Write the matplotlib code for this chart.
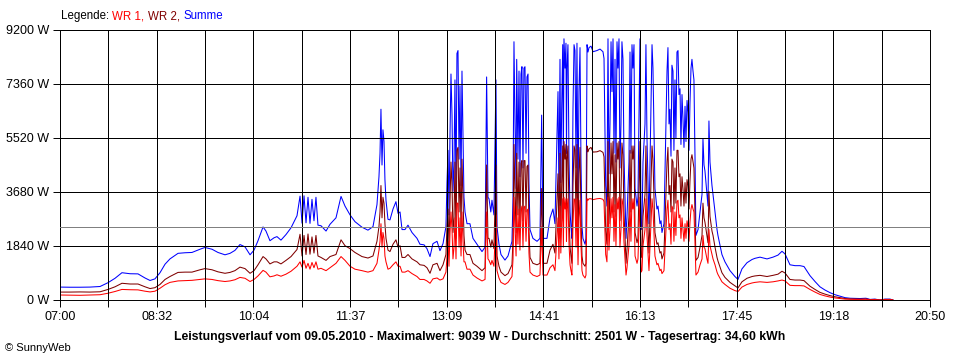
import numpy as np
import matplotlib
matplotlib.use("Agg")
import matplotlib.pyplot as plt

plt.rcParams['font.family'] = ['Liberation Sans', 'DejaVu Sans']

# all times are minutes after 07:00, powers in W
# morning, 07:00 - 10:46
t_morning = [0, 9.5, 19.1, 28.6, 38.2, 45.8, 52.5, 59.1, 66.8, 74.4,
             81.1, 85.9, 90.6, 95.4, 100.2, 104.9, 112.6, 119.3, 125.9, 133.6,
             138.3, 145, 150.7, 157.4, 162.2, 166.9, 171.7, 176.5, 181.3, 185.1,
             188.9, 193.7, 196.5, 200.3, 204.2, 207, 210.8, 215.6, 220.4, 226.1]
wr1_morning = [170, 165, 160, 170, 180, 230, 290, 360, 350, 345,
               300, 275, 300, 400, 520, 600, 650, 660, 670, 700,
               720, 700, 660, 630, 650, 690, 770, 740, 630, 700,
               820, 1010, 950, 790, 820, 860, 810, 880, 980, 1150]
wr2_morning = [270, 270, 275, 270, 280, 360, 450, 570, 545, 545,
               450, 390, 420, 530, 700, 800, 940, 950, 950, 1030,
               1070, 1030, 960, 910, 940, 1000, 1120, 1070, 910, 1000,
               1200, 1480, 1400, 1230, 1300, 1300, 1230, 1350, 1480, 1720]

# late morning, 10:49 - 13:05
t_noon = [229, 230.9, 232.8, 234.7, 236.6, 238.5, 240.4, 242.3, 244.2, 246.1,
          249, 253.8, 257.6, 263.3, 268.1, 271.9, 276.7, 281.4, 288.1, 293.8,
          298.6, 302.4, 304.3, 305.3, 306.2, 307.2, 308.1, 309.1, 310, 311,
          312.9, 314.8, 317.7, 320.5, 322.5, 324.4, 326.3, 329.1, 332, 335.8,
          340.6, 343.4, 347.3, 350.1, 353, 355.8, 359.7, 362.5, 365.4]
wr1_noon = [1300, 1120, 1350, 1080, 1250, 1050, 1280, 1100, 1300, 1050,
            1080, 1000, 1100, 1250, 1480, 1350, 1150, 1050, 1000, 950,
            1000, 1250, 1700, 2000, 2600, 1800, 2300, 2100, 1500, 1300,
            1050, 1080, 1200, 1300, 1150, 1150, 950, 950, 1000, 900,
            800, 700, 700, 650, 570, 720, 750, 680, 720]
wr2_noon = [2240, 1500, 2200, 1550, 2250, 1560, 2150, 1600, 2200, 1500,
            1450, 1350, 1480, 1550, 2050, 1850, 1750, 1620, 1480, 1430,
            1500, 2000, 2500, 3000, 3900, 2800, 3500, 3300, 2600, 2100,
            1700, 1650, 1900, 2050, 1800, 1850, 1450, 1450, 1550, 1400,
            1300, 1200, 1180, 1100, 910, 1200, 1250, 1000, 1200]

# early afternoon, 13:08 - 15:22
t_early = [368.2, 369.2, 370.2, 371.1, 372.1, 373, 374, 374.9, 375.9, 376.8,
           377.8, 378.7, 379.7, 380.7, 381.6, 382.6, 383.5, 384.5, 385.4, 386.4,
           388.3, 391.1, 394, 397.8, 402.6, 405.5, 407, 408.3, 409.3, 411,
           412.1, 414, 415.9, 416.9, 418.8, 420.7, 424.5, 427.4, 431.2, 432.2,
           433.1, 434.1, 435.1, 435.7, 436.9, 437.9, 438.8, 439.8, 440.7, 441.7,
           442.6, 443.6, 444.6, 445.5, 446.5, 447.4, 448.4, 451.2, 455.1, 457.9,
           459.5, 460.8, 464.6, 467.5, 470.3, 472.2, 475.1, 476, 477, 477.8,
           478.6, 479.6, 480.2, 480.8, 481.8, 482.7, 483.2, 483.7, 484.6, 485.6,
           486.6, 487.5, 488.4, 489.4, 490.4, 491.3, 492.3, 493.2, 494.2, 495.1,
           496.1, 497, 498, 498.9, 500.9, 501.8]
wr1_early = [950, 1500, 2000, 1150, 2300, 3000, 2400, 1400, 1800, 2800,
             1400, 3300, 3300, 1800, 2800, 1500, 3000, 2000, 1300, 1300,
             1050, 1050, 850, 750, 650, 700, 3000, 1400, 1350, 1200,
             1350, 1150, 2900, 1000, 750, 600, 530, 600, 800, 1400,
             3500, 2400, 1500, 3200, 1900, 3100, 1700, 3050, 3200, 1800,
             3150, 3200, 2000, 3050, 3100, 1600, 950, 850, 800, 850,
             2500, 850, 850, 1100, 1200, 1000, 2800, 1400, 3200, 1600,
             2600, 3450, 1800, 3500, 3100, 3450, 2000, 3100, 3450, 1900,
             1200, 1000, 850, 2600, 3450, 3400, 1800, 3450, 1200, 2800,
             3400, 1900, 1000, 850, 750, 850]
wr2_early = [1550, 2500, 3100, 1750, 3400, 4700, 3900, 2300, 2800, 4700,
             2100, 5100, 5200, 3000, 4500, 2400, 4800, 3500, 2200, 1700,
             1550, 1550, 1250, 1150, 1000, 1100, 4600, 2100, 2100, 1800,
             2050, 1750, 4600, 1500, 1150, 950, 830, 900, 1200, 2100,
             5300, 3600, 2300, 5000, 2900, 4700, 2500, 4650, 4750, 2700,
             4750, 4750, 3000, 4550, 4600, 2400, 1450, 1250, 1200, 1250,
             3800, 1250, 1250, 1700, 1900, 1600, 4300, 2100, 5000, 2400,
             3900, 5250, 2700, 5400, 4800, 5300, 3000, 4800, 5250, 2900,
             1800, 1500, 1250, 3900, 5250, 5100, 2700, 5300, 1800, 4300,
             5200, 2900, 1500, 1250, 1150, 1250]

# late afternoon, 15:23 - 17:07
t_late = [502.8, 503.7, 504.7, 506.6, 508.5, 512.3, 515.2, 518, 519, 520.6,
          521.8, 522.8, 523.7, 524.7, 525.7, 526.6, 527.6, 528.5, 529.5, 530.4,
          531.4, 532.3, 533.3, 534.2, 535.2, 536.1, 537.1, 538, 539, 540,
          540.9, 542.8, 543.8, 544.7, 545.7, 546.6, 547.6, 548.6, 550.5, 551.4,
          553.3, 554.3, 555.2, 556.2, 558.1, 559, 560, 561.9, 562.9, 564.8,
          565.7, 567.6, 569.5, 570.5, 572.4, 573.4, 574.3, 576.2, 579.1, 580,
          581, 581.9, 582.9, 583.8, 584.8, 585.7, 586.7, 587.6, 588.6, 589.6,
          590.5, 591.5, 592.4, 593.4, 594.3, 595.3, 596.3, 597.2, 598.2, 599.1,
          600.1, 601, 602, 602.9, 603.9, 604.8, 605.8, 606.7]
wr1_late = [3450, 3400, 3450, 3450, 3420, 3450, 3460, 3430, 3350, 1550,
            1300, 3500, 1700, 2400, 3450, 2800, 3500, 2000, 3250, 1850,
            3450, 3100, 3500, 1800, 2400, 3450, 3250, 2000, 1400, 850,
            1100, 1850, 3350, 2000, 3450, 3100, 3450, 1500, 1250, 1400,
            3500, 950, 1000, 1850, 2400, 3450, 2200, 1000, 1850, 3450,
            3100, 1500, 1200, 1250, 1000, 1050, 900, 1000, 3100, 3400,
            2400, 2600, 1900, 3200, 3100, 2000, 3000, 2200, 3350, 3400,
            2800, 2900, 2100, 2800, 2400, 2000, 2600, 2100, 2700, 2500,
            2000, 2650, 3100, 3250, 3100, 3000, 1950, 850]
wr2_late = [5250, 5050, 5150, 5200, 5040, 5050, 5090, 5030, 4880, 2350,
            1900, 5400, 2600, 3600, 5350, 4300, 5400, 3000, 4950, 2850,
            5350, 4800, 5400, 2700, 3600, 5350, 4950, 3000, 2200, 1250,
            1700, 2850, 5100, 3000, 5250, 4800, 5250, 2300, 1950, 2100,
            5400, 1450, 1500, 2850, 3600, 5250, 3300, 1600, 2850, 5250,
            4800, 2300, 1900, 1950, 1600, 1650, 1400, 1600, 4700, 5200,
            3600, 3900, 3000, 4800, 4700, 3100, 4500, 3300, 5100, 5100,
            4200, 4300, 3200, 4200, 3800, 3200, 4000, 3300, 4100, 3900,
            3100, 4050, 4800, 4950, 4700, 4500, 2950, 1350]

# evening, 17:09 - 20:15
t_evening = [608.7, 610.6, 612.5, 613.4, 614.4, 615.3, 617.2, 618.2, 619.1, 620.1,
             622, 623, 624.9, 626.8, 627.7, 631.5, 634.4, 639.2, 643.9, 646.8,
             650.6, 655.4, 660.2, 663, 667.8, 674.5, 680.2, 685, 688.8, 691.7,
             696.4, 701.2, 706, 709.8, 715.5, 720.3, 725, 729.8, 734.6, 739.4,
             744.1, 748.9, 753.7, 758.4, 763.2, 768.9, 772.7, 777.5, 782.3, 787,
             791.9, 794.6]
wr1_evening = [950, 1200, 1400, 2200, 1800, 1750, 1400, 1250, 2400, 1850,
               1550, 1400, 1200, 950, 870, 620, 530, 400, 320, 290,
               440, 530, 580, 600, 620, 600, 620, 650, 680, 650,
               500, 490, 490, 480, 360, 270, 190, 140, 100, 70,
               50, 30, 25, 20, 20, 25, 5, 10, 0, 10,
               10, 0]
wr2_evening = [1450, 1800, 2200, 3300, 2800, 2650, 2200, 1950, 3700, 2850,
               2350, 2200, 1800, 1450, 1330, 930, 770, 600, 480, 410,
               620, 740, 800, 820, 840, 800, 840, 880, 980, 920,
               700, 680, 680, 660, 470, 360, 260, 200, 150, 110,
               80, 50, 35, 35, 30, 35, 15, 20, 0, 20,
               20, 0]

t_min = np.concatenate([t_morning, t_noon, t_early, t_late, t_evening])
wr1 = np.concatenate([wr1_morning, wr1_noon, wr1_early, wr1_late, wr1_evening])
wr2 = np.concatenate([wr2_morning, wr2_noon, wr2_early, wr2_late, wr2_evening])
summe = wr1 + wr2

y_ticks = [0, 1840, 3680, 5520, 7360, 9200]
x_labels = ['07:00', '08:32', '10:04', '11:37', '13:09',
            '14:41', '16:13', '17:45', '19:18', '20:50']
average_w = 2501
title = ('Leistungsverlauf vom 09.05.2010 - Maximalwert: 9039 W - '
         'Durchschnitt: 2501 W - Tagesertrag: 34,60 kWh')

span = 830.0
n_grid = 18
x_grid = [span * i / n_grid for i in range(n_grid + 1)]

fig = plt.figure(figsize=(9.6, 3.6), dpi=100)
ax = fig.add_axes([60 / 960, 60 / 360, 870 / 960, 270 / 360])

ax.plot(t_min, summe, color='#0000ff', lw=0.75, zorder=2)
ax.plot(t_min, wr2, color='#800000', lw=0.75, zorder=2.1)
ax.plot(t_min, wr1, color='#ff0000', lw=0.75, zorder=2.2)

# crisp 1 px grid like the original web chart
px = 0.7
for xg in x_grid:
    ax.axvline(xg, color='black', lw=px, zorder=3, antialiased=False)
for yg in y_ticks:
    ax.axhline(yg, color='black', lw=px, zorder=3, antialiased=False)
ax.axhline(average_w, color='#808080', lw=px, zorder=3, antialiased=False)

ax.set_xlim(0, span)
ax.set_ylim(0, 9200)
ax.set_xticks(x_grid)
ax.set_xticklabels([x_labels[i // 2] if i % 2 == 0 else '' for i in range(n_grid + 1)])
ax.set_yticks(y_ticks)
ax.set_yticklabels([f'{v} W' for v in y_ticks])
ax.tick_params(direction='out', length=5, width=px, color='black',
               labelsize=9, pad=3)
for s in ax.spines.values():
    s.set_linewidth(px)

fig.text(0.5, 0.063, title, ha='center', va='center', fontsize=8.8, fontweight='bold')
fig.text(5 / 960, 0.033, '\u00a9 SunnyWeb', ha='left', va='center', fontsize=8)

# multi-coloured legend line
parts = [('Legende: ', 'black'), ('WR 1, ', '#ff0000'),
         ('WR 2, ', '#800000'), ('Summe', '#0000ff')]
fig.canvas.draw()
renderer = fig.canvas.get_renderer()
xpos = 61 / 960
for text, col in parts:
    t = fig.text(xpos, 0.955, text, color=col, ha='left', va='center', fontsize=8.3)
    xpos += t.get_window_extent(renderer).width / 960

fig.savefig('out.png', dpi=100)
